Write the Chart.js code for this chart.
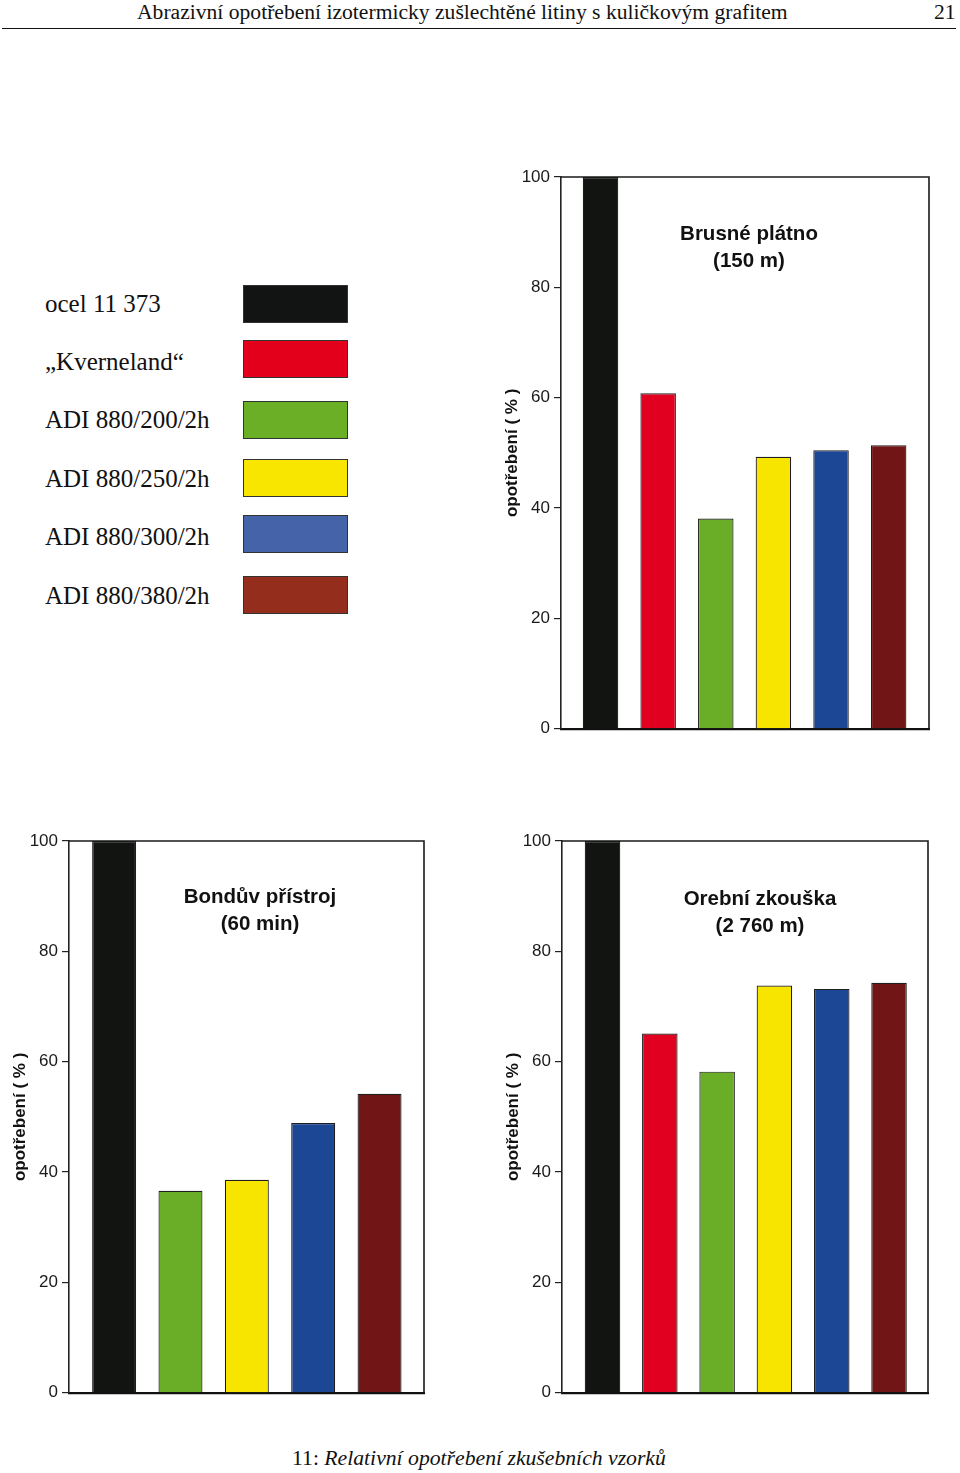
<!DOCTYPE html>
<html>
<head>
<meta charset="utf-8">
<script src="https://cdn.jsdelivr.net/npm/chart.js@4.4.1/dist/chart.umd.min.js"></script>
<style>
  body { margin: 0; background: #fff; width: 960px; height: 1473px; position: relative; overflow: hidden;
         font-family: "Liberation Serif", "Times New Roman", serif; color: #111; }
  .abs { position: absolute; white-space: nowrap; }
  #header { left: 137px; top: 0px; font-size: 21.6px; line-height: 24px; }
  #pageno { left: 934px; top: 0px; font-size: 21.6px; line-height: 24px; }
  #rule { left: 2px; top: 28px; width: 954px; height: 0; border-top: 1.6px solid #111; }
  .leg-label { font-size: 25px; line-height: 30px; left: 45px; }
  .leg-swatch { left: 243px; width: 103px; height: 36px; border: 1.6px solid #333; }
  .inner-title { font-family: "Liberation Sans", Arial, sans-serif; font-weight: bold; font-size: 20.5px;
                 line-height: 27px; text-align: center; transform: translateX(-50%); }
  #caption { left: 292px; top: 1444px; font-size: 21.7px; line-height: 28px; }
  canvas { position: absolute; }
</style>
</head>
<body>
<div id="header" class="abs">Abrazivní opotřebení izotermicky zušlechtěné litiny s kuličkovým grafitem</div>
<div id="pageno" class="abs">21</div>
<div id="rule" class="abs"></div>
<div id="legend"></div>
<div id="caption" class="abs">11: <i>Relativní opotřebení zkušebních vzorků</i></div>

<canvas id="chartBrusne" width="448" height="586" style="left:491px;top:157px"></canvas>
<canvas id="chartBonduv" width="435" height="586" style="left:-1px;top:821px"></canvas>
<canvas id="chartOrebni" width="446" height="586" style="left:492px;top:821px"></canvas>

<div class="abs inner-title" style="left:749px;top:219px">Brusné plátno<br>(150 m)</div>
<div class="abs inner-title" style="left:260px;top:882px">Bondův přístroj<br>(60 min)</div>
<div class="abs inner-title" style="left:760px;top:884px">Orební zkouška<br>(2 760 m)</div>

<script>
// materials (legend order) and their colours
var materials = ["ocel 11 373", "\u201eKverneland\u201c", "ADI 880/200/2h", "ADI 880/250/2h", "ADI 880/300/2h", "ADI 880/380/2h"];
var barColors = ["#121412", "#e1001f", "#69ae26", "#f7e500", "#1c4795", "#721517"];
var legendColors = ["#121414", "#e2001a", "#6aaf26", "#f8e600", "#4463a8", "#952d1c"];

// Brusné plátno (150 m)
var brusneCategories = materials;
var brusneValues = [100, 60.8, 38.1, 49.3, 50.5, 51.4];

// Bondův přístroj (60 min) - no Kverneland sample
var bonduvCategories = ["ocel 11 373", "ADI 880/200/2h", "ADI 880/250/2h", "ADI 880/300/2h", "ADI 880/380/2h"];
var bonduvValues = [100, 36.6, 38.6, 48.9, 54.2];

// Orební zkouška (2 760 m)
var orebniCategories = materials;
var orebniValues = [100, 65.1, 58.2, 73.8, 73.2, 74.3];

var yTicks = [0, 20, 40, 60, 80, 100];
var yTitle = "opotřebení ( % )";

// legend block (HTML)
var swatchTops = [285, 340, 401, 459, 515, 576];
var labelMids = [304, 362, 420, 479, 537, 596];
var legend = document.getElementById("legend");
materials.forEach(function(m, i) {
    var lab = document.createElement("div");
    lab.className = "abs leg-label";
    lab.style.top = (labelMids[i] - 15) + "px";
    lab.textContent = m;
    legend.appendChild(lab);
    var sw = document.createElement("div");
    sw.className = "abs leg-swatch";
    sw.style.top = swatchTops[i] + "px";
    sw.style.background = legendColors[i];
    legend.appendChild(sw);
});

// top + right edge of plot box
var framePlugin = {
    id: "frame",
    afterDatasetsDraw: function(chart) {
        var ctx = chart.ctx, a = chart.chartArea;
        ctx.save();
        ctx.strokeStyle = "#1a1a1a";
        ctx.lineWidth = 1.6;
        ctx.beginPath();
        ctx.moveTo(a.left, a.top);
        ctx.lineTo(a.right, a.top);
        ctx.lineTo(a.right, a.bottom);
        ctx.stroke();
        ctx.restore();
    }
};

function makeChart(id, cats, vals, xMin, xMax, barPct) {
    var ctx = document.getElementById(id).getContext("2d");
    return new Chart(ctx, {
        type: "bar",
        data: {
            datasets: [{
                data: vals.map(function(v, i) { return { x: i, y: v }; }),
                backgroundColor: cats.map(function(c) { return barColors[materials.indexOf(c)]; }),
                borderColor: "#1e1e1e",
                borderWidth: 1.2,
                barPercentage: barPct,
                categoryPercentage: 1
            }]
        },
        options: {
            responsive: false,
            animation: false,
            layout: { padding: { top: 20, right: 10, bottom: 5, left: 0 } },
            plugins: { legend: { display: false }, tooltip: { enabled: false } },
            scales: {
                x: {
                    type: "linear",
                    min: xMin,
                    max: xMax,
                    offset: false,
                    afterBuildTicks: function(s) { s.ticks = cats.map(function(c, i) { return { value: i }; }); },
                    ticks: { display: false },
                    grid: { display: false, offset: false },
                    border: { display: true, width: 2.2, color: "#111" },
                    afterFit: function(s) { s.height = 0; }
                },
                y: {
                    min: 0,
                    max: 100,
                    afterBuildTicks: function(s) { s.ticks = yTicks.map(function(v) { return { value: v }; }); },
                    ticks: {
                        color: "#1a1a1a",
                        padding: 4,
                        font: { family: "'Liberation Sans', Arial, sans-serif", size: 17 }
                    },
                    grid: { display: true, drawOnChartArea: false, drawTicks: true, tickLength: 7,
                            color: "#222", tickColor: "#222", lineWidth: 1.2 },
                    border: { display: true, width: 1.6, color: "#222" },
                    title: {
                        display: true,
                        text: yTitle,
                        color: "#111",
                        padding: { top: 11, bottom: 0 },
                        font: { family: "'Liberation Sans', Arial, sans-serif", size: 17, weight: "bold" }
                    },
                    afterFit: function(s) { s.width = 70; }
                }
            }
        },
        plugins: [framePlugin]
    });
}

makeChart("chartBrusne", brusneCategories, brusneValues, -0.686, 5.70, 0.616);
makeChart("chartBonduv", bonduvCategories, bonduvValues, -0.68, 4.67, 0.663);
makeChart("chartOrebni", orebniCategories, orebniValues, -0.707, 5.68, 0.62);
</script>
</body>
</html>
